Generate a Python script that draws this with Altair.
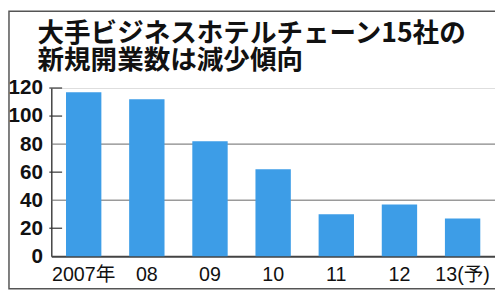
import altair as alt
import pandas as pd

years = ["2007年", "08", "09", "10", "11", "12", "13(予)"]
openings = [117, 112, 82, 62, 30, 37, 27]
label_values = [0, 20, 40, 60, 80, 100, 120]
grid_values = [40, 80]
tick_values = [20, 60, 100, 120]
title_lines = ["大手ビジネスホテルチェーン15社の", "新規開業数は減少傾向"]

df = pd.DataFrame({"year": years, "n": openings})
grid_df = pd.DataFrame({"v": grid_values})
tick_df = pd.DataFrame({"v": tick_values})
one = pd.DataFrame({"k": [0]})

W, H = 451, 171
x_scale = alt.Scale(domain=years, paddingInner=0.44, paddingOuter=0.233)
y_scale = alt.Scale(domain=[0, 120], nice=False, zero=True)

FONT = "Liberation Sans Narrow, Liberation Sans, Noto Sans CJK JP"

y_axis = alt.Axis(title=None, values=label_values, ticks=False, grid=False,
                  domainColor="#444", domainWidth=1.5, labelFont=FONT,
                  labelFontSize=21, labelFontWeight="bold", labelColor="#111",
                  labelPadding=9, labelOverlap=False, labelFlush=False)

grid = alt.Chart(grid_df).mark_rule(color="#666", strokeWidth=1).encode(
    y=alt.Y("v:Q", scale=y_scale, axis=y_axis),
    x=alt.value(0), x2=alt.value(W),
)
ticks = alt.Chart(tick_df).mark_rule(color="#333", strokeWidth=1.2).encode(
    y=alt.Y("v:Q", scale=y_scale, axis=y_axis),
    x=alt.value(-2), x2=alt.value(11),
)
bars = alt.Chart(df).mark_bar(color="#3d9de7").encode(
    x=alt.X("year:N", sort=years, scale=x_scale,
            axis=alt.Axis(title=None, labelAngle=0, ticks=False, domainColor="#444",
                          domainWidth=2, labelFont=FONT, labelFontSize=20,
                          labelColor="#111", labelPadding=9, labelBaseline="top",
                          labelOverlap=False)),
    y=alt.Y("n:Q", scale=y_scale, axis=y_axis),
)
frame = alt.Chart(one).mark_rect(fill=None, stroke="#555", strokeWidth=1.5).encode(
    x=alt.value(-43), x2=alt.value(470), y=alt.value(-78), y2=alt.value(204),
)
t1 = alt.Chart(one).mark_text(align="left", baseline="middle", font="Noto Sans CJK JP",
                              fontWeight="bold", fontSize=27, color="#111").encode(
    x=alt.value(-14), y=alt.value(-54.5), text=alt.value(title_lines[0]))
t2 = alt.Chart(one).mark_text(align="left", baseline="middle", font="Noto Sans CJK JP",
                              fontWeight="bold", fontSize=27, color="#111").encode(
    x=alt.value(-14), y=alt.value(-27), text=alt.value(title_lines[1]))

chart = alt.layer(grid, ticks, bars, frame, t1, t2).properties(
    width=W, height=H,
    autosize=alt.AutoSizeParams(type="none"),
    padding={"left": 44, "top": 79, "right": 0, "bottom": 35},
).configure_view(stroke=None).configure(background="white")

chart.save("out.html", embed_options={"renderer": "svg", "actions": False})
